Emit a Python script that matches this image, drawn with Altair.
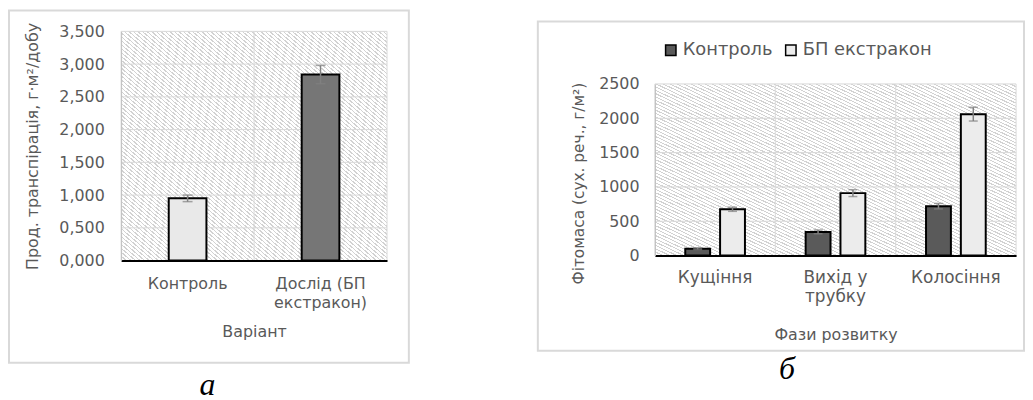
import altair as alt
import pandas as pd

# ---------------- panel "а" ----------------
left_categories = ["Контроль", "Дослід (БП|екстракон)"]
left_values = [0.95, 2.84]
left_errors = [0.05, 0.14]
left_ticks = [0, 0.5, 1.0, 1.5, 2.0, 2.5, 3.0, 3.5]
left_fills = ["#e9e9e9", "#767676"]

# ---------------- panel "б" ----------------
right_phases = ["Кущіння", "Вихід у|трубку", "Колосіння"]
right_series = ["Контроль", "БП екстракон"]
control_values = [100, 345, 720]
control_errors = [10, 27, 40]
bp_values = [675, 910, 2060]
bp_errors = [30, 50, 100]
right_ticks = [0, 500, 1000, 1500, 2000, 2500]
right_fills = ["#5a5a5a", "#ececec"]

FONT = "DejaVu Sans"
TXT = "#595959"
GRID = "#d9d9d9"
ERR = "#808080"
BOX = "#d9d9d9"


def hatch(n, line="#d2d2d2", bg="#ffffff", duty=0.34):
    stops = []
    for i in range(n):
        a = i / n
        b = (i + duty) / n
        c = min((i + 1) / n, 1.0)
        stops += [
            {"offset": a, "color": line},
            {"offset": b, "color": line},
            {"offset": b, "color": bg},
            {"offset": c, "color": bg},
        ]
    return {"gradient": "linear", "x1": 0, "y1": 1, "x2": 1, "y2": 0, "stops": stops}


one = pd.DataFrame({"k": [0]})

# ================= LEFT =================
LW, LH = 268, 231
ldf = pd.DataFrame({"cat": left_categories, "value": left_values, "err": left_errors})
ldf["lo"] = ldf["value"] - ldf["err"]
ldf["hi"] = ldf["value"] + ldf["err"]

lxs = alt.Scale(domain=left_categories, paddingInner=0, paddingOuter=0)
lxa = alt.Axis(title="Варіант", labelExpr="split(datum.label, '|')", labelAngle=0,
               ticks=False, grid=False, domainColor="black", domainWidth=2,
               labelFontSize=16, labelColor=TXT, labelPadding=15, labelLineHeight=19,
               titleFontSize=16, titleColor=TXT, titleFontWeight="normal",
               titlePadding=14, zindex=1)
lys = alt.Scale(domain=[0, 3.5], nice=False)
lya = alt.Axis(values=left_ticks,
               labelExpr="replace(format(datum.value, '.3f'), '.', ',')",
               title="Прод. транспірація, г·м²/добу", ticks=False, grid=False,
               domainColor="#bfbfbf", labelFontSize=16, labelColor=TXT,
               labelPadding=17, titleFontSize=16, titleFontWeight="normal",
               titleColor=TXT, titlePadding=18, zindex=1)


def LX(bp=None):
    if bp is None:
        return alt.X("cat:N", sort=left_categories, scale=lxs, axis=lxa)
    return alt.X("cat:N", sort=left_categories, scale=lxs, axis=lxa, bandPosition=bp)


def LY(f):
    return alt.Y(f + ":Q", scale=lys, axis=lya)


l_bg = alt.Chart(one).mark_rect(fill=hatch(117)).encode(
    x=alt.value(0), x2=alt.value(LW), y=alt.value(0), y2=alt.value(LH))
l_hgrid = alt.Chart(pd.DataFrame({"value": left_ticks})).mark_rule(color=GRID).encode(y=LY("value"))
l_vgrid = alt.Chart(pd.DataFrame({"cat": left_categories})).mark_rule(color=GRID).encode(x=LX(0))
l_edge = alt.Chart(one).mark_rule(color=GRID).encode(x=alt.value(LW), y=alt.value(0), y2=alt.value(LH))
l_bars = alt.Chart(ldf).mark_bar(size=38, stroke="black", strokeWidth=2).encode(
    x=LX(), y=LY("value"),
    color=alt.Color("cat:N", scale=alt.Scale(domain=left_categories, range=left_fills), legend=None))
l_err = alt.Chart(ldf).mark_rule(color=ERR, strokeWidth=1.5).encode(x=LX(), y=LY("lo"), y2="hi:Q")
l_cap1 = alt.Chart(ldf).mark_tick(color=ERR, size=10, thickness=1.5).encode(x=LX(), y=LY("hi"))
l_cap2 = alt.Chart(ldf).mark_tick(color=ERR, size=10, thickness=1.5).encode(x=LX(), y=LY("lo"))
l_box = alt.Chart(one).mark_rect(fillOpacity=0, stroke=BOX, strokeWidth=2).encode(
    x=alt.value(-113), x2=alt.value(290), y=alt.value(-21), y2=alt.value(334))
l_cap = alt.Chart(one).mark_text(text="а", font="Liberation Serif", fontStyle="italic",
                                 fontSize=32, color="black", baseline="alphabetic").encode(
    x=alt.value(87), y=alt.value(366))

left = alt.layer(l_bg, l_hgrid, l_vgrid, l_edge, l_bars, l_err, l_cap1, l_cap2, l_box, l_cap).properties(
    width=LW, height=LH)

# ================= RIGHT =================
RW, RH = 364, 226      # group height; plot occupies the lower 173 px
RTOP = 53
rows = []
for i, ph in enumerate(right_phases):
    rows.append({"phase": ph, "series": right_series[0], "value": control_values[i], "err": control_errors[i]})
    rows.append({"phase": ph, "series": right_series[1], "value": bp_values[i], "err": bp_errors[i]})
rdf = pd.DataFrame(rows)
rdf["lo"] = rdf["value"] - rdf["err"]
rdf["hi"] = rdf["value"] + rdf["err"]

rxs = alt.Scale(domain=right_phases, paddingInner=0, paddingOuter=0)
rxa = alt.Axis(title="Фази розвитку", labelExpr="split(datum.label, '|')", labelAngle=0,
               ticks=False, grid=False, domainColor="black", domainWidth=2,
               labelFontSize=17, labelColor=TXT, labelPadding=14, labelLineHeight=19,
               titleFontSize=16, titleColor=TXT, titleFontWeight="normal",
               titlePadding=23, zindex=1)
rys = alt.Scale(domain=[0, 2500], nice=False, range=[RH, RTOP])
rya = alt.Axis(values=right_ticks, format="d", title="Фітомаса (сух. реч., г/м²)",
               ticks=False, grid=False, domainColor="#bfbfbf", labelFontSize=16,
               labelColor=TXT, labelPadding=16, titleFontSize=15.5, titleFontWeight="normal",
               titleColor=TXT, titlePadding=12, titleY=153, zindex=1)
xos = alt.Scale(domain=right_series, paddingInner=0.2857, paddingOuter=0.8714)


def RX(bp=None):
    if bp is None:
        return alt.X("phase:N", sort=right_phases, scale=rxs, axis=rxa)
    return alt.X("phase:N", sort=right_phases, scale=rxs, axis=rxa, bandPosition=bp)


def RY(f):
    return alt.Y(f + ":Q", scale=rys, axis=rya)


XO = alt.XOffset("series:N", sort=right_series, scale=xos)

r_bg = alt.Chart(one).mark_rect(fill=hatch(104)).encode(
    x=alt.value(0), x2=alt.value(RW), y=alt.value(RTOP), y2=alt.value(RH))
r_hgrid = alt.Chart(pd.DataFrame({"value": right_ticks})).mark_rule(color=GRID).encode(y=RY("value"))
r_vgrid = alt.Chart(pd.DataFrame({"phase": right_phases})).mark_rule(color=GRID).encode(
    x=RX(0), y=alt.value(RTOP), y2=alt.value(RH))
r_edge = alt.Chart(one).mark_rule(color=GRID).encode(x=alt.value(RW), y=alt.value(RTOP), y2=alt.value(RH))
r_bars = alt.Chart(rdf).mark_bar(stroke="black", strokeWidth=2).encode(
    x=RX(), xOffset=XO, y=RY("value"),
    color=alt.Color("series:N", sort=right_series,
                    scale=alt.Scale(domain=right_series, range=right_fills),
                    legend=alt.Legend(orient="none", legendX=7, legendY=10, direction="horizontal",
                                      title=None, symbolType="square", symbolSize=110,
                                      symbolStrokeColor="black", symbolStrokeWidth=1.5,
                                      labelFontSize=18, labelColor=TXT, columnPadding=9,
                                      labelOffset=3)))
r_err = alt.Chart(rdf).mark_rule(color=ERR, strokeWidth=1.5).encode(x=RX(), xOffset=XO, y=RY("lo"), y2="hi:Q")
r_cap1 = alt.Chart(rdf).mark_tick(color=ERR, size=9, thickness=1.5).encode(x=RX(), xOffset=XO, y=RY("hi"))
r_cap2 = alt.Chart(rdf).mark_tick(color=ERR, size=9, thickness=1.5).encode(x=RX(), xOffset=XO, y=RY("lo"))
r_box = alt.Chart(one).mark_rect(fillOpacity=0, stroke=BOX, strokeWidth=2).encode(
    x=alt.value(-118), x2=alt.value(372), y=alt.value(-10), y2=alt.value(322))
r_cap = alt.Chart(one).mark_text(text="б", font="Liberation Serif", fontStyle="italic",
                                 fontSize=32, color="black", baseline="alphabetic").encode(
    x=alt.value(133), y=alt.value(350))

right = alt.layer(r_bg, r_hgrid, r_vgrid, r_edge, r_bars, r_err, r_cap1, r_cap2, r_box, r_cap).properties(
    width=RW, height=RH)

chart = alt.hconcat(left, right, spacing=128).resolve_scale(
    color="independent").resolve_legend(color="independent").properties(padding=0).configure(
    font=FONT).configure_view(stroke=None)

chart.save("out.html", embed_options={"renderer": "svg", "actions": False})
